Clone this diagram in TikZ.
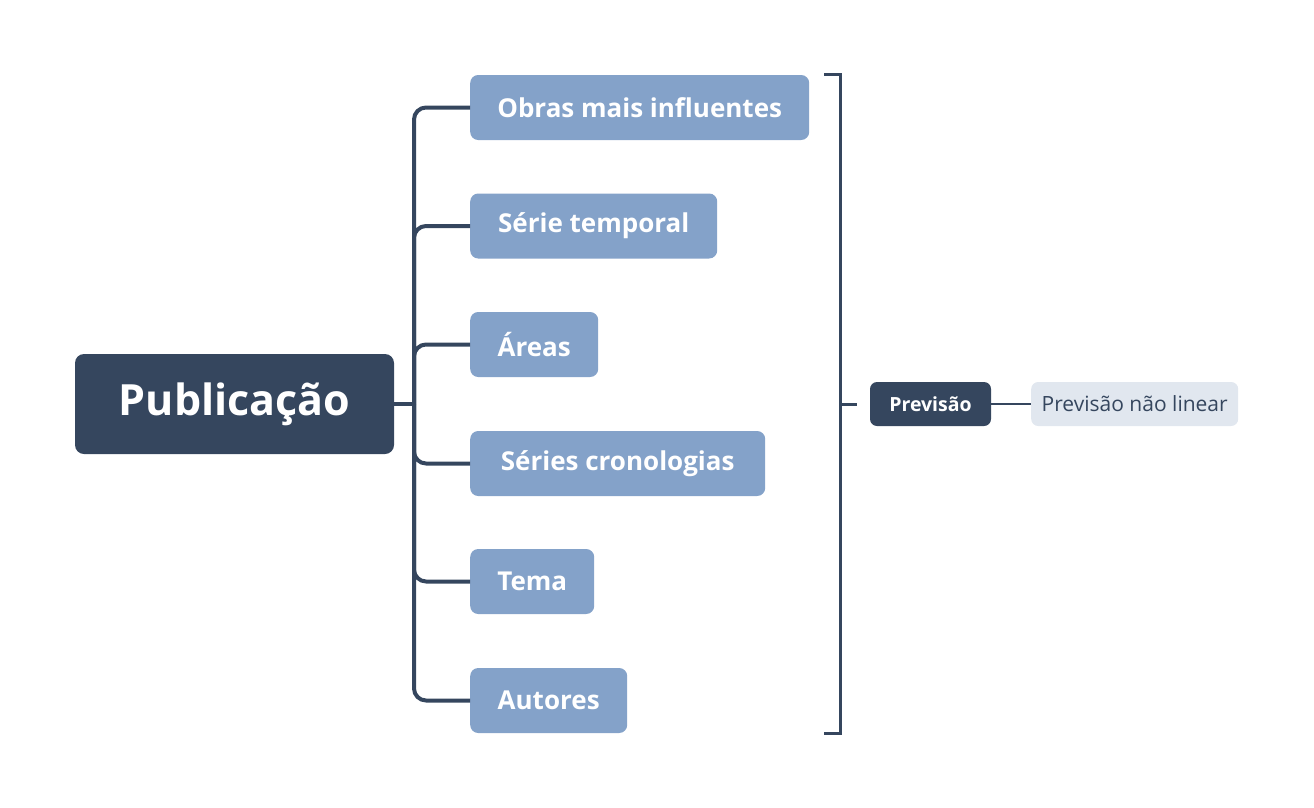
\documentclass[tikz,border=0pt]{standalone}
\usepackage{fontspec}
\setmainfont{Open Sans}
\definecolor{dk}{HTML}{35465E}
\definecolor{bl}{HTML}{84A2C9}
\definecolor{lt}{HTML}{E1E7EF}
\begin{document}
\begin{tikzpicture}[x=1pt,y=-1pt,
  mainbox/.style={fill=dk,rounded corners=9pt,text=white,font=\fontsize{43}{50}\selectfont\bfseries,minimum width=319pt,minimum height=100pt,inner sep=0pt},
  subbox/.style={fill=bl,rounded corners=8pt,text=white,font=\fontsize{26}{30}\selectfont\bfseries,minimum height=65pt,anchor=west,inner sep=0pt},
  prevbox/.style={fill=dk,rounded corners=7pt,text=white,font=\fontsize{19.5}{22}\selectfont\bfseries,minimum width=121pt,minimum height=44pt,inner sep=0pt},
  leafbox/.style={fill=lt,rounded corners=7pt,text=dk,font=\fontsize{21}{24}\selectfont,minimum width=207pt,minimum height=44pt,anchor=west,inner sep=0pt},
  conn/.style={draw=dk,line width=4pt,rounded corners=12pt},
  brk/.style={draw=dk,line width=3pt},
]
\useasboundingbox (0,0) rectangle (1314,808);
\node[mainbox] (pub) at (234.5,404) {Publicação};
\node[subbox,minimum width=339pt] (s1) at (470,107.5) {Obras mais influentes};
\node[subbox,minimum width=247pt] (s2) at (470,226) {Série temporal};
\node[subbox,minimum width=128pt] (s3) at (470,344.5) {Áreas};
\node[subbox,minimum width=295pt] (s4) at (470,463.5) {Séries cronologias};
\node[subbox,minimum width=124pt] (s5) at (470,581.5) {Tema};
\node[subbox,minimum width=157pt] (s6) at (470,700.5) {Autores};
\coordinate (j) at (414,404);
\draw[conn] (pub.east) -- (j);
\foreach \n in {s1,s2,s3,s4,s5,s6}{
  \draw[conn] (j) |- (\n.west);
}
\coordinate (bt) at (824,74.5);
\coordinate (bb) at (824,733);
\coordinate (bm) at (840,404);
\coordinate (bmt) at (857,404);
\draw[brk] (bt) -- (840,74.5) -- (840,733) -- (bb);
\draw[brk] (bm) -- (bmt);
\node[prevbox] (prev) at (930.5,404) {Previsão};
\node[leafbox] (leaf) at (1031,404) {Previsão não linear};
\draw[draw=dk,line width=2.5pt] (prev.east) -- (leaf.west);
\end{tikzpicture}
\end{document}
